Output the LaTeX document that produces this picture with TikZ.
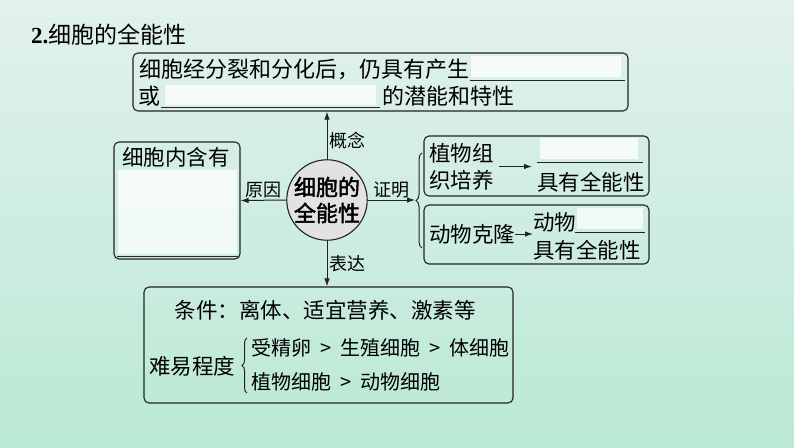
\documentclass[tikz,border=0pt]{standalone}
\usepackage{fontspec}
\setmainfont{Noto Sans CJK SC}
\newfontfamily\numfont{Liberation Serif}
\newfontfamily\corefont[FakeBold=2]{Noto Sans CJK SC}
\usetikzlibrary{arrows.meta,positioning,calc,decorations.pathreplacing}
\definecolor{bgtop}{RGB}{226,241,238}
\definecolor{bgbot}{RGB}{186,233,212}
\definecolor{inkgray}{RGB}{35,35,35}
\definecolor{coregray}{RGB}{226,226,226}
\newcommand{\gt}{\hspace{9pt}>\hspace{9pt}}

\begin{document}
\begin{tikzpicture}[x=1pt,y=-1pt,
    box/.style={draw=inkgray,line width=1.1pt,rounded corners=5pt},
    txt/.style={inner sep=0pt,font=\fontsize{21.5}{27}\selectfont},
    wide/.style={inner sep=0pt,font=\fontsize{22}{27}\selectfont},
    small/.style={inner sep=0pt,font=\fontsize{20}{26}\selectfont},
    tag/.style={inner sep=1.5pt,font=\fontsize{18}{18}\selectfont},
    arr/.style={draw=inkgray,line width=1pt,-{Latex[length=8pt,width=5.5pt]}},
    blank/.style={fill=white,opacity=0.75},
    gap/.style={draw=inkgray,line width=1pt},
    lbrace/.style={draw=inkgray,line width=1pt,decorate,decoration={brace,amplitude=6pt}}]
    \useasboundingbox (0,0) rectangle (794,447);
    \shade[top color=bgtop,bottom color=bgbot] (0,0) rectangle (794,447);

    \node[anchor=west,inner sep=0pt,font=\fontsize{23}{23}\selectfont] (title) at (31,35) {{\numfont\bfseries 2.}细胞的全能性};

    \node[box,minimum width=495pt,minimum height=58pt] (concept) at (380.5,82) {};
    \fill[blank] (471,56) rectangle (621,77);
    \fill[blank] (165,85) rectangle (376,105);
    \node[wide,anchor=west] (cline1) at (139,69) {细胞经分裂和分化后，仍具有产生};
    \draw[gap] (470,80) -- (625,80);
    \node[wide,anchor=west] (cor) at (138,96) {或};
    \draw[gap] (161,107) -- (380,107);
    \node[wide,anchor=west] (cline2) at (382,96) {的潜能和特性};

    \node[circle,draw=inkgray,line width=1.1pt,fill=coregray,minimum size=78pt,inner sep=0pt,align=center,
        font=\fontsize{22}{26}\selectfont\corefont] (core) at (327,200) {细胞的\\全能性};

    \node[box,minimum width=126pt,minimum height=117pt] (cause) at (177,200.5) {};
    \fill[blank] (118,170) rectangle (237,254);
    \draw[gap] (117,256) -- (238,256);
    \node[txt] (causet) at (176,157) {细胞内含有};

    \node[box,minimum width=225pt,minimum height=60pt] (plant) at (536.5,166) {};
    \node[txt,anchor=west,align=left] (plantL) at (429,166.5) {植物组\\织培养};
    \fill[blank] (540,138) rectangle (638,159);
    \draw[gap] (537,162) -- (643,162);
    \node[txt,anchor=west] (plantR) at (537,182) {具有全能性};
    \draw[arr] ([xshift=5pt]plantL.east) -- ([xshift=-5pt]plantL.east -| plantR.west);

    \node[box,minimum width=225pt,minimum height=59pt] (animal) at (536.5,234.5) {};
    \node[txt,anchor=west] (animL) at (429,234) {动物克隆};
    \node[txt,anchor=west] (animT) at (533,222) {动物};
    \fill[blank] (577,208) rectangle (643,229);
    \draw[gap] (575,232) -- (645,232);
    \node[txt,anchor=west] (animR) at (533,250) {具有全能性};
    \draw[arr] (animL.east) -- (animL.east -| animR.west);

    \node[box,minimum width=369pt,minimum height=116pt] (express) at (328.5,345) {};
    \node[txt] (cond) at (325,310) {条件：离体、适宜营养、激素等};
    \node[txt,anchor=west] (level) at (149,366) {难易程度};
    \draw[lbrace,decoration={amplitude=5pt}] (247,393) -- (247,338);
    \node[small,anchor=west] (order1) at (251,348) {受精卵\gt 生殖细胞\gt 体细胞};
    \node[small,anchor=west] (order2) at (251,382) {植物细胞\gt 动物细胞};

    \coordinate (tip) at (415,200);
    \draw[arr] (core.north) -- (core.north |- concept.south) node[tag,pos=0.4,right] {概念};
    \draw[arr] (core.west) -- (cause.east) node[tag,midway,above] {原因};
    \draw[arr] (core.east) -- (tip) node[tag,midway,above] {证明};
    \draw[arr] (core.south) -- (core.south |- express.north) node[tag,midway,right] {表达};
    \draw[lbrace] (422,248) -- (422,153);
\end{tikzpicture}
\end{document}
